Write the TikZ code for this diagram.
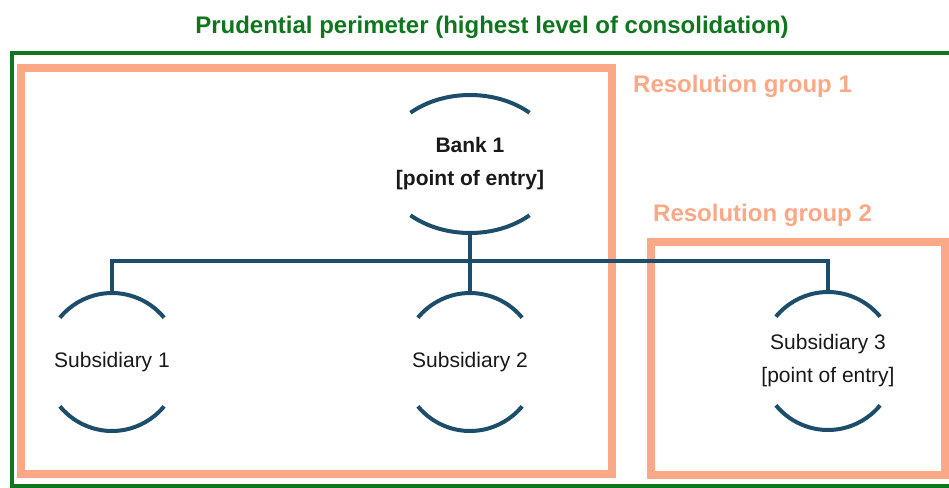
\documentclass[tikz,border=0pt]{standalone}
\usepackage{fontspec}
\setmainfont{Liberation Sans}
\usetikzlibrary{shapes.geometric}
\definecolor{perimgreen}{RGB}{16,118,30}
\definecolor{groupsalmon}{RGB}{250,168,134}
\definecolor{linkblue}{RGB}{28,78,108}
\definecolor{textgray}{RGB}{25,25,25}

\begin{document}
\begin{tikzpicture}[
        x=1pt, y=1pt,
        perimeter/.style={draw=perimgreen, line width=4.5},
        group/.style={draw=groupsalmon, line width=7.5},
        heading/.style={font=\fontsize{24}{28}\selectfont\bfseries, inner sep=0},
        entity/.style={ellipse, minimum width=136, minimum height=138,
            inner sep=0, align=center, text=textgray,
            font=\fontsize{21}{33}\selectfont},
        link/.style={draw=linkblue, line width=4}
    ]
    \clip (0,0) rectangle (949,-487);

    \draw[perimeter] (12,-53) rectangle (970,-486);
    \draw[group] (21,-68) rectangle (612,-474);
    \draw[group] (651,-242) rectangle (945,-475);

    \node[heading, text=perimgreen] (perim) at (492,-27) {Prudential perimeter (highest level of consolidation)};
    \node[heading, text=groupsalmon, anchor=west] (rg1) at (633,-86) {Resolution group 1};
    \node[heading, text=groupsalmon, anchor=west] (rg2) at (653,-215) {Resolution group 2};

    \node[entity, minimum width=178, font=\fontsize{21}{33}\selectfont\bfseries] (b1) at (470,-164) {Bank 1\\{}[point of entry]};
    \node[entity] (s1) at (112,-362) {Subsidiary 1};
    \node[entity] (s2) at (470,-362) {Subsidiary 2};
    \node[entity] (s3) at (828,-361) {Subsidiary 3\\{}[point of entry]};

    \foreach \n/\a/\t in {b1/89/48, s1/68/40, s2/68/40, s3/68/40}
        \draw[link] (\n.center) ++(\t:\a pt and 69pt) arc[start angle=\t, end angle=180-\t, x radius=\a, y radius=69]
            (\n.center) ++(180+\t:\a pt and 69pt) arc[start angle=180+\t, end angle=360-\t, x radius=\a, y radius=69];

    \coordinate (bus) at (470,-261);
    \draw[link] (s1.north) |- (bus) -| (s3.north);
    \draw[link] (b1.south) -- (s2.north);
\end{tikzpicture}
\end{document}
